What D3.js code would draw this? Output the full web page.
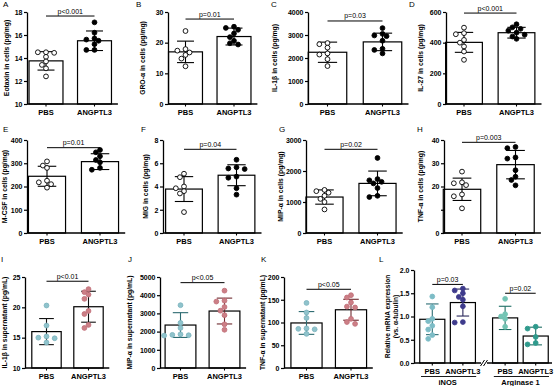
<!DOCTYPE html>
<html>
<head>
<meta charset="utf-8">
<script src="https://cdn.jsdelivr.net/npm/d3@7"></script>
<style>
  body { margin: 0; background: #fff; }
  svg { display: block; }
</style>
</head>
<body>
<div id="chart"></div>
<script>
// ---- data ----
const categories = ["PBS", "ANGPTL3"];
const panelLetters = ["A", "B", "C", "D", "E", "F", "G", "H", "I", "J", "K"];
const yTitles = [
    "Eotaxin in cells (pg/mg)", "GRO-\u03b1 in cells (pg/mg)", "IL-1\u03b2 in cells (pg/mg)", "IL-27 in cells (pg/mg)",
    "M-CSF in cells (pg/mg)", "MIG in cells (pg/mg)", "MIP-\u03b1  in cells (pg/mg)", "TNF-\u03b1 in cells (pg/mg)",
    "IL-1\u03b2 in supernatant (pg/mL)", "MIP-\u03b1 in supernatant (pg/mL)", "TNF-\u03b1 in supernatant (pg/mL)"
];
const pLabels = ["p<0.001", "p=0.01", "p=0.03", "p<0.001", "p=0.01", "p=0.04", "p=0.02", "p=0.003", "p<0.01", "p<0.05", "p<0.05"];
const yTicks = [
    [10, 12, 14, 16, 18], [0, 10, 20, 30], [0, 1000, 2000, 3000, 4000], [0, 200, 400, 600],
    [0, 100, 200, 300, 400], [0, 2, 4, 6, 8], [0, 1000, 2000, 3000], [0, 10, 20, 30, 40],
    [10, 15, 20, 25], [0, 1000, 2000, 3000, 4000, 5000], [0, 50, 100, 150, 200]
];
const yTickLabels = [
    ["10", "12", "14", "16", "18"], ["0", "10", "20", "30"], ["0", "1000", "2000", "3000", "4000"], ["0", "200", "400", "600"],
    ["0", "100", "200", "300", "400"], ["0", "2", "4", "6", "8"], ["0", "1000", "2000", "3000"], ["0", "", "20", "30", "40"],
    ["10", "15", "20", "25"], ["0", "1000", "2000", "3000", "4000", "5000"], ["0", "50", "100", "150", "200"]
];
const pbsMeans = [13.75, 17.0, 2250, 402, 244, 3.78, 1160, 18.8, 16.0, 2360, 99];
const pbsSD = [0.8, 3.5, 440, 65, 43, 1.07, 230, 4.8, 2.15, 680, 25];
const angMeans = [15.5, 22.0, 2700, 465, 307, 4.97, 1600, 29.4, 20.1, 3130, 128];
const angSD = [0.85, 2.75, 380, 35, 34, 0.9, 398, 6.1, 2.55, 710, 23];
const bracketValues = [17.65, 27.7, 3610, 593, 367, 7.2, 2700, 39, 24.3, 4690, 173];
const pbsPoints = [
    [14.5, 14.5, 14.45, 14.1, 13.7, 13.4, 13.1, 12.4],
    [23.8, 17.9, 17.4, 16.8, 16.0, 14.8, 12.3],
    [2650, 2600, 2450, 2200, 2150, 1950, 1650],
    [498, 462, 455, 418, 400, 375, 342, 288],
    [308, 290, 280, 225, 218, 210, 195],
    [5.1, 4.8, 4.0, 3.85, 3.6, 3.4, 1.8],
    [1390, 1350, 1300, 1200, 1100, 1000, 760],
    [26.4, 21.8, 21.4, 20.6, 16.6, 15.8, 10.6],
    [20.3, 17.0, 15.2, 15.0, 14.9, 14.2],
    [3450, 2480, 2200, 1850, 1820, 1800, 1780],
    [143, 122, 110, 87, 86, 85, 75]
];
const angPoints = [
    [17.1, 16.2, 15.7, 15.6, 15.5, 15.2, 14.7, 14.7],
    [25.2, 24.8, 24.2, 23.0, 21.8, 20.6, 19.8, 19.4],
    [3300, 3050, 2980, 2950, 2750, 2400, 2350, 2200],
    [520, 500, 490, 478, 465, 452, 440, 425],
    [357, 347, 330, 314, 304, 280, 272],
    [6.3, 5.65, 5.55, 5.5, 4.85, 4.75, 3.85, 3.3],
    [2420, 1740, 1700, 1650, 1600, 1450, 1200, 1160],
    [37.0, 36.5, 32.5, 32.0, 27.0, 24.2, 22.8, 20.5],
    [23.0, 22.5, 22.1, 21.4, 19.4, 18.9, 17.1, 16.6],
    [4250, 3700, 3650, 3350, 3150, 2900, 2400, 2100],
    [160, 155, 144, 135, 133, 108, 101, 97]
];

// panel L (qPCR)
const lGenes = ["iNOS", "Arginase 1"];
const lPLabels = ["p=0.03", "p=0.02"];
const lBrackets = [1.69, 1.5];
const lTicks = [0, 0.5, 1.0, 1.5, 2.0];
const lMeans = [[0.94, 1.30], [0.97, 0.58]];
const lSD = [[0.33, 0.29], [0.25, 0.19]];
const lPoints = [
    [[1.43, 1.2, 0.95, 0.9, 0.8, 0.72, 0.6, 0.52], [1.6, 1.56, 1.5, 1.42, 1.36, 1.22, 0.88, 0.87]],
    [[1.38, 1.05, 1.0, 0.95, 0.78], [0.78, 0.74, 0.56, 0.43, 0.40]]
];

// ---- layout ----
const w = 554, h = 386;
const rows = [{ top: 12, bottom: 104 }, { top: 140, bottom: 233 }, { top: 277, bottom: 368 }];
// y-axis x, centre of first and second bar
const axisX = [27, 168, 308, 446, 27, 163, 306, 444, 25, 160, 284];
const barCentres = [[46, 94.5], [185.5, 234], [327.5, 382.5], [464, 516.5], [47, 100], [184, 236.5], [324.5, 377.5], [462, 515.5], [46.5, 88.5], [180.5, 224.5], [306.5, 351]];
const letterPos = [[3, 7], [136, 7], [271, 7], [409, 7], [3, 132], [141, 132], [279, 132], [417, 132], [1, 262], [128, 262], [261, 262]];
const titleX = [9, 145, 277, 423, 7, 148, 283, 423, 7, 132, 265];
const colors = {
    pbsFill: ["#fff", "#fff", "#fff", "#fff", "#fff", "#fff", "#fff", "#fff", "#8fc3cc", "#8fc3cc", "#8fc3cc"],
    pbsStroke: ["#000", "#000", "#000", "#000", "#000", "#000", "#000", "#000", "#7fb6c0", "#7fb6c0", "#7fb6c0"],
    angFill: ["#000", "#000", "#000", "#000", "#000", "#000", "#000", "#000", "#cc7f86", "#cc7f86", "#cc7f86"],
    angStroke: ["#000", "#000", "#000", "#000", "#000", "#000", "#000", "#000", "#c2707a", "#c2707a", "#c2707a"],
    pbsErr: ["#000", "#000", "#000", "#000", "#000", "#000", "#000", "#000", "#111", "#2c6a70", "#2c6a70"],
    angErr: ["#000", "#000", "#000", "#000", "#000", "#000", "#000", "#000", "#111", "#6e2a2e", "#6e2a2e"]
};
const FONT = "'Liberation Sans', Arial, sans-serif";
const R = 2.4;

const svg = d3.select("#chart").append("svg").attr("width", w).attr("height", h)
    .style("font-family", FONT);

// simple beeswarm so the dots don't sit on top of each other
function swarm(values, y, cx, r) {
    const placed = [];
    values.forEach(v => {
        const py = y(v);
        const cands = [0];
        for (let j = 1; j < 8; j++) cands.push(-j * r * 1.7, j * r * 1.7);
        let px = cx;
        for (const off of cands) {
            if (placed.every(q => Math.hypot(q.x - (cx + off), q.y - py) >= 2 * r * 0.95)) { px = cx + off; break; }
        }
        placed.push({ x: px, y: py });
    });
    return placed;
}

function drawBar(g, x, bw, y, mean, sd, pts, fill, stroke, errColor, y0) {
    g.append("rect")
        .attr("x", x - bw / 2).attr("y", y(mean))
        .attr("width", bw).attr("height", y(y0) - y(mean))
        .attr("fill", "#fff").attr("stroke", "#000").attr("stroke-width", 1.2);
    const cap = bw * 0.5;
    g.append("line").attr("x1", x).attr("x2", x).attr("y1", y(mean + sd)).attr("y2", y(mean - sd))
        .attr("stroke", errColor).attr("stroke-width", 1.1);
    [mean + sd, mean - sd].forEach(v => {
        g.append("line").attr("x1", x - cap / 2).attr("x2", x + cap / 2).attr("y1", y(v)).attr("y2", y(v))
            .attr("stroke", errColor).attr("stroke-width", 1.1);
    });
    g.selectAll(null).data(swarm(pts, y, x, R)).enter().append("circle")
        .attr("cx", d => d.x).attr("cy", d => d.y).attr("r", R)
        .attr("fill", fill).attr("stroke", stroke).attr("stroke-width", 0.9);
}

function yAxis(g, y, ax, ticks, labels) {
    const a = g.append("g").attr("transform", `translate(${ax},0)`)
        .call(d3.axisLeft(y).tickValues(ticks).tickSize(3).tickSizeOuter(0).tickPadding(1.5)
            .tickFormat((d, i) => labels[i]));
    a.select(".domain").attr("stroke-width", 1.3);
    a.selectAll(".tick line").attr("stroke-width", 1.2);
    a.selectAll("text").attr("font-size", 7).attr("font-weight", "bold").attr("font-family", FONT).attr("fill", "#000");
}

// ---- panels A-K ----
panelLetters.forEach((letter, i) => {
    const row = rows[Math.floor(i / 4)];
    const g = svg.append("g");
    const ticks = yTicks[i];
    const y = d3.scaleLinear().domain([ticks[0], ticks[ticks.length - 1]]).range([row.bottom, row.top]);
    const [c0, c1] = barCentres[i];
    const step = c1 - c0;
    const x = d3.scaleBand().domain(categories).range([c0 - 0.4 * step, c1 + 0.4 * step])
        .paddingInner(0.3).paddingOuter(0.05);
    const bw = x.bandwidth();
    const cx = d => x(d) + bw / 2;

    drawBar(g, cx("PBS"), bw, y, pbsMeans[i], pbsSD[i], pbsPoints[i],
        colors.pbsFill[i], colors.pbsStroke[i], colors.pbsErr[i], ticks[0]);
    drawBar(g, cx("ANGPTL3"), bw, y, angMeans[i], angSD[i], angPoints[i],
        colors.angFill[i], colors.angStroke[i], colors.angErr[i], ticks[0]);

    yAxis(g, y, axisX[i], ticks, yTickLabels[i]);

    // x axis
    const xEnd = x.range()[1] + 4;
    g.append("line").attr("x1", axisX[i]).attr("x2", xEnd).attr("y1", row.bottom).attr("y2", row.bottom)
        .attr("stroke", "#000").attr("stroke-width", 1.3);
    categories.forEach(c => {
        g.append("line").attr("x1", cx(c)).attr("x2", cx(c)).attr("y1", row.bottom).attr("y2", row.bottom + 2.5)
            .attr("stroke", "#000").attr("stroke-width", 1.1);
        g.append("text").attr("x", cx(c)).attr("y", row.bottom + 10.5).attr("text-anchor", "middle")
            .attr("font-size", 7.5).attr("font-weight", "bold").text(c);
    });

    // significance bracket
    const by = y(bracketValues[i]);
    g.append("line").attr("x1", cx("PBS")).attr("x2", cx("ANGPTL3")).attr("y1", by).attr("y2", by)
        .attr("stroke", "#000").attr("stroke-width", 1);
    g.append("text").attr("x", (cx("PBS") + cx("ANGPTL3")) / 2).attr("y", by - 2.5).attr("text-anchor", "middle")
        .attr("font-size", 7).text(pLabels[i]);

    // y title
    g.append("text").attr("transform", `translate(${titleX[i]},${(row.top + row.bottom) / 2}) rotate(-90)`)
        .attr("text-anchor", "middle").attr("font-size", 6.8).attr("font-weight", "bold").text(yTitles[i]);

    g.append("text").attr("x", letterPos[i][0]).attr("y", letterPos[i][1]).attr("font-size", 8).text(letter);
});

// ---- panel L ----
(function () {
    const g = svg.append("g");
    const top = 270, bottom = 363, ax = 414;
    const y = d3.scaleLinear().domain([0, 2]).range([bottom, top]);
    const outer = d3.scaleBand().domain(lGenes).range([417, 551]).paddingInner(0.16).paddingOuter(0);
    const inner = d3.scaleBand().domain(categories).range([0, outer.bandwidth()]).paddingInner(0.18).paddingOuter(0.09);
    const bw = inner.bandwidth();
    const pbsCol = [["#7dbcc6", "#2c6d74"], ["#74c4b4", "#1e6e64"]];
    const angCol = [["#3e3b8c", "#2a285c"], ["#2f9a8c", "#1e6e64"]];

    lGenes.forEach((gene, gi) => {
        categories.forEach((c, ci) => {
            const cx = outer(gene) + inner(c) + bw / 2;
            const col = ci === 0 ? pbsCol[gi] : angCol[gi];
            drawBar(g, cx, bw, y, lMeans[gi][ci], lSD[gi][ci], lPoints[gi][ci], col[0], col[0], col[1], 0);
            g.append("line").attr("x1", cx).attr("x2", cx).attr("y1", bottom).attr("y2", bottom + 2.5)
                .attr("stroke", "#000").attr("stroke-width", 1.1);
            g.append("text").attr("x", cx).attr("y", bottom + 10.5).attr("text-anchor", "middle")
                .attr("font-size", 7.5).attr("font-weight", "bold").text(c);
        });
        const x0 = outer(gene) + inner("PBS") + bw / 2;
        const x1 = outer(gene) + inner("ANGPTL3") + bw / 2;
        const by = y(lBrackets[gi]);
        g.append("line").attr("x1", x0).attr("x2", x1).attr("y1", by).attr("y2", by)
            .attr("stroke", "#000").attr("stroke-width", 1);
        g.append("text").attr("x", (x0 + x1) / 2).attr("y", by - 2.5).attr("text-anchor", "middle")
            .attr("font-size", 7).text(lPLabels[gi]);
        // group underline and gene name
        g.append("line").attr("x1", outer(gene) + 4).attr("x2", outer(gene) + outer.bandwidth() - 2)
            .attr("y1", bottom + 13.5).attr("y2", bottom + 13.5).attr("stroke", "#000").attr("stroke-width", 0.9);
        g.append("text").attr("x", outer(gene) + outer.bandwidth() / 2).attr("y", bottom + 21.5)
            .attr("text-anchor", "middle").attr("font-size", 7.5).attr("font-weight", "bold").text(gene);
    });

    yAxis(g, y, ax, lTicks, lTicks.map(d => d.toFixed(1)));
    const brk = outer("Arginase 1") - outer.step() * 0.08;
    g.append("line").attr("x1", ax).attr("x2", brk - 3).attr("y1", bottom).attr("y2", bottom)
        .attr("stroke", "#000").attr("stroke-width", 1.3);
    g.append("line").attr("x1", brk + 3).attr("x2", 552).attr("y1", bottom).attr("y2", bottom)
        .attr("stroke", "#000").attr("stroke-width", 1.3);
    [-1.5, 1.5].forEach(d => {
        g.append("line").attr("x1", brk + d - 2).attr("x2", brk + d + 2).attr("y1", bottom + 3).attr("y2", bottom - 3)
            .attr("stroke", "#000").attr("stroke-width", 1);
    });

    g.append("text").attr("transform", `translate(390,${(top + bottom) / 2}) rotate(-90)`)
        .attr("text-anchor", "middle").attr("font-size", 6.6).attr("font-weight", "bold").text("Relative mRNA expression");
    g.append("text").attr("transform", `translate(398,${(top + bottom) / 2}) rotate(-90)`)
        .attr("text-anchor", "middle").attr("font-size", 6.6).attr("font-weight", "bold").text("(vs. \u03b1-tubulin)");
    g.append("text").attr("x", 379).attr("y", 262).attr("font-size", 8).text("L");
})();
</script>
</body>
</html>
